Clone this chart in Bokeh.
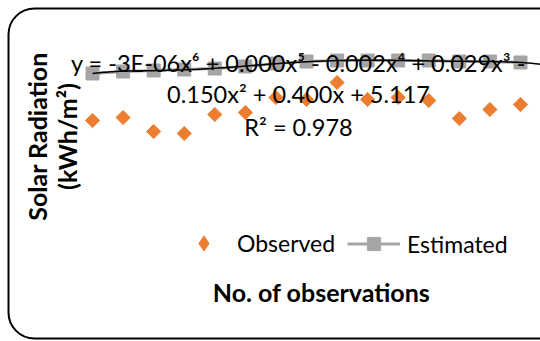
import numpy as np
from bokeh.plotting import figure
from bokeh.models import Range1d, Label, Legend, LegendItem, BoxAnnotation, ColumnDataSource
from bokeh.embed import file_html
from bokeh.resources import INLINE

# ---- data ----
obs_no = [1, 2, 3, 4, 5, 6, 7, 8, 9, 10, 11, 12, 13, 14, 15]
observed = [4.46, 4.52, 4.24, 4.20, 4.58, 4.62, 4.92, 4.88, 5.22, 4.88, 4.92, 4.86, 4.50, 4.68, 4.78]
estimated = [5.40, 5.44, 5.46, 5.48, 5.50, 5.54, 5.60, 5.64, 5.66, 5.66, 5.66, 5.66, 5.64, 5.64, 5.62]
eq_lines = ["y = -3E-06x\u2076 + 0.000x\u2075 - 0.002x\u2074 + 0.029x\u00b3 -",
            "0.150x\u00b2 + 0.400x + 5.117",
            "R\u00b2 = 0.978"]
y_title = ["Solar Radiation", "(kWh/m\u00b2)"]
x_title = "No. of observations"
series_names = ["Observed", "Estimated"]

ORANGE = "#ED7D31"
GRAY = "#A5A5A5"
FONT = "Lato"

W, H = 540, 341
p = figure(width=W, height=H, output_backend="svg", toolbar_location=None,
           x_range=Range1d(-2.01, 15.655), y_range=Range1d(0.04, 6.86),
           x_axis_location=None, y_axis_location=None, min_border=0)
p.grid.visible = False
p.outline_line_color = None
p.background_fill_color = "white"
p.border_fill_color = "white"

src = ColumnDataSource(dict(x=obs_no, obs=observed, est=estimated))

# legend swatch renderer (legend glyphs ignore marker angle); tiny, hidden under the markers
r_obs_key = p.scatter("x", "obs", source=src, marker="diamond", size=1,
                      fill_color=ORANGE, line_color=ORANGE)
r_obs = p.scatter("x", "obs", source=src, marker="square", angle=np.pi / 4, size=10,
                  fill_color=ORANGE, line_color=ORANGE)
r_line = p.line("x", "est", source=src, line_color=GRAY, line_width=3)
r_sq = p.scatter("x", "est", source=src, marker="square", size=13,
                 fill_color=GRAY, line_color=GRAY)

# polynomial trend line (6th order) fitted to the estimated series
coef = np.polyfit(obs_no, estimated, 6)
xs = np.linspace(1, 15.8, 200)
p.line(xs, np.polyval(coef, xs), line_color="black", line_width=1.5)

# equation label
for txt, yy in zip(eq_lines, [279, 248, 215]):
    p.add_layout(Label(x=298, y=yy, x_units="screen", y_units="screen", text=txt,
                       text_align="center", text_baseline="middle",
                       text_font=FONT, text_font_size="23.5px", text_color="black"))

# axis titles
for txt, xx in zip(y_title, [36, 66]):
    p.add_layout(Label(x=xx, y=205, x_units="screen", y_units="screen", text=txt,
                       angle=np.pi / 2, text_align="center", text_baseline="middle",
                       text_font=FONT, text_font_size="25px", text_font_style="bold",
                       text_color="black"))
p.add_layout(Label(x=321, y=50, x_units="screen", y_units="screen", text=x_title,
                   text_align="center", text_baseline="middle",
                   text_font=FONT, text_font_size="25px", text_font_style="bold",
                   text_color="black"))

common = dict(orientation="horizontal", glyph_width=53, label_standoff=7, spacing=0,
              padding=0, margin=0, border_line_color=None, background_fill_alpha=0,
              label_text_font=FONT, label_text_font_size="23px", label_text_color="black")
leg1 = Legend(items=[LegendItem(label=series_names[0], renderers=[r_obs_key])],
              location=(177, 79), glyph_height=38, **common)
leg2 = Legend(items=[LegendItem(label=series_names[1], renderers=[r_line, r_sq])],
              location=(347, 81), glyph_height=33, **common)
p.add_layout(leg1, "center")
p.add_layout(leg2, "center")

# rounded chart border
p.add_layout(BoxAnnotation(left=8, right=640, top=333, bottom=3,
                           left_units="screen", right_units="screen",
                           top_units="screen", bottom_units="screen",
                           fill_alpha=0, line_color="black", line_alpha=1.0, line_width=2,
                           border_radius=26))

open("out.html", "w").write(file_html(p, INLINE))
